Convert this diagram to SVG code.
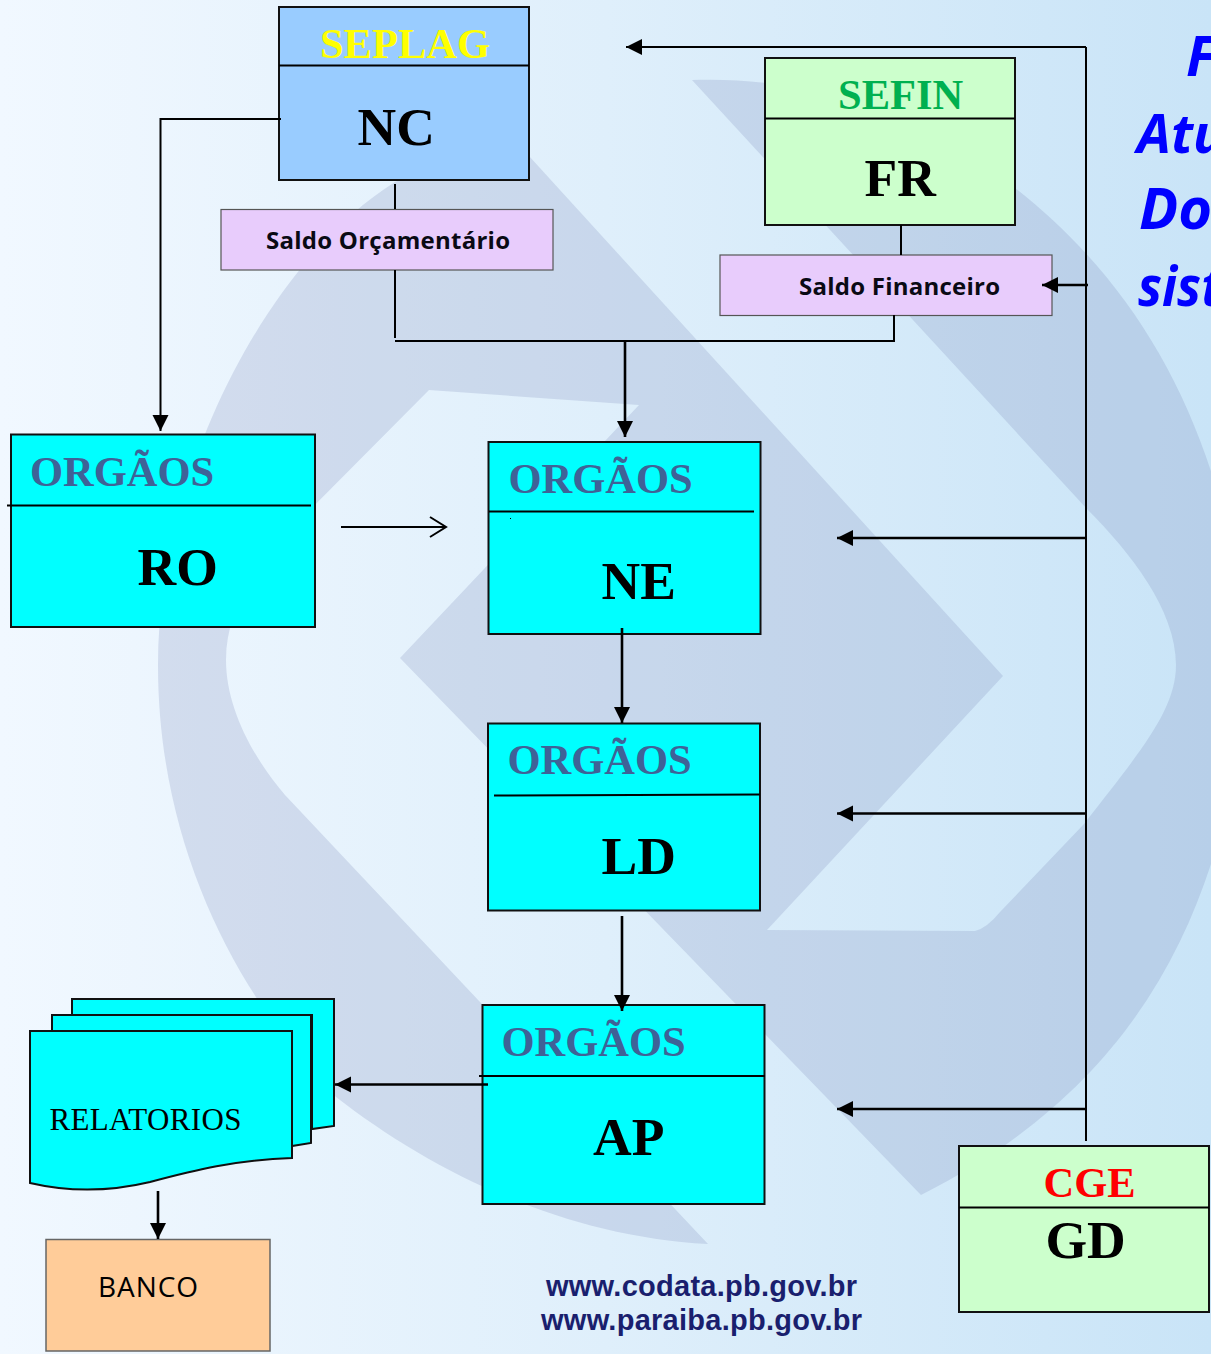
<svg xmlns="http://www.w3.org/2000/svg" width="1211" height="1354" viewBox="0 0 1211 1354">
<style>
.serif{font-family:"Liberation Serif","Times New Roman",serif}
.b{font-weight:700}
.t{font-size:42.500px}
.m{font-size:53.500px;fill:#000}
.org{fill:#3f6297}
.box{stroke:#111;stroke-width:2}
.cy{fill:#00ffff}
.gr{fill:#ccffcc}
.li{fill:none;stroke:#000;stroke-width:2}
.th{fill:none;stroke:#000;stroke-width:2.600}
.sal{fill:#e8ccfc;stroke:#555;stroke-width:1.200}
.saltxt{font-family:"Open Sans","Liberation Sans",sans-serif;font-weight:700;font-size:24px;fill:#0a0a14}
.side{font-family:"Open Sans","Liberation Sans",sans-serif;font-weight:700;font-style:italic;font-size:56px;fill:#0000ff}
.url{font-family:"Liberation Sans",Arial,sans-serif;font-weight:700;font-size:29px;fill:#1a1f6e}
</style>
<defs>
<linearGradient id="bg" x1="0" y1="0" x2="1" y2="0"><stop offset="0" stop-color="#f1f8ff"/><stop offset=".5" stop-color="#dfeffb"/><stop offset="1" stop-color="#c9e4f7"/></linearGradient>
<marker id="arr" markerUnits="userSpaceOnUse" markerWidth="18" markerHeight="18" refX="16" refY="9" orient="auto"><path d="M0 1L16 9L0 17Z" fill="#000"/></marker>
<marker id="open" markerUnits="userSpaceOnUse" markerWidth="20" markerHeight="24" refX="18" refY="12" orient="auto"><path d="M2 2L18 12L2 22" fill="none" stroke="#000" stroke-width="2"/></marker>
</defs>
<rect width="1211" height="1354" fill="url(#bg)"/>
<path d="M529 156L1003 676L767 930L975 931Q987 928 1000 912L1084 824C1140 752 1176 710 1176 665C1176 610 1130 552 1087 509L692 80C830 75 950 130 1015 188C1120 270 1190 380 1225 520V800L1211 864C1170 990 1090 1110 921 1195L400 658L639 405L429 390L290 530C250 570 226 615 226 660C226 710 255 760 285 795L708 1244C560 1236 430 1170 336 1097C240 1000 158 850 158 665C158 470 270 260 395 182C440 160 490 158 529 156Z" fill="#7c8cbc" fill-opacity=".23"/>
<g id="side-text">
<text class="side" x="1186" y="76">F</text>
<text class="side" x="1137" y="153" font-size="54" style="font-size:54px">Atu</text>
<text class="side" x="1139" y="229" style="font-size:58px">Do</text>
<text class="side" x="1138" y="306" textLength="84" lengthAdjust="spacingAndGlyphs">sist</text>
</g>
<g id="urls">
<text class="url" x="546" y="1296" textLength="311">www.codata.pb.gov.br</text>
<text class="url" x="541" y="1330" textLength="321">www.paraiba.pb.gov.br</text>
</g>
<g id="seplag">
<rect class="box" x="279" y="7" width="250" height="173" fill="#99ccff"/>
<path class="li" d="M279 65.500H529"/>
<text class="serif b t" x="320" y="58" fill="#ffff00" textLength="170">SEPLAG</text>
<text class="serif b m" x="357.500" y="145">NC</text>
</g>
<g id="sefin">
<rect class="box gr" x="765" y="58" width="250" height="167"/>
<path class="li" d="M765 118.500H1015"/>
<text class="serif b t" x="838" y="109" fill="#00b050">SEFIN</text>
<text class="serif b m" x="864.500" y="196">FR</text>
</g>
<g id="saldo-orc">
<rect class="sal" x="221" y="209.500" width="332" height="60.500"/>
<text class="saltxt" x="266" y="249" textLength="244">Saldo Orçamentário</text>
</g>
<g id="saldo-fin">
<rect class="sal" x="720" y="255" width="332" height="60.500"/>
<text class="saltxt" x="799" y="295" textLength="201">Saldo Financeiro</text>
</g>
<g id="ro">
<rect class="box cy" x="11" y="434.500" width="304" height="192.500"/>
<path class="li" d="M7 505.500H311"/>
<text class="serif b t org" x="30" y="486">ORGÃOS</text>
<text class="serif b m" x="137.500" y="585">RO</text>
</g>
<g id="ne">
<rect class="box cy" x="488.500" y="442" width="272" height="192"/>
<path class="li" d="M489 511.500H754"/>
<rect x="510" y="518" width="1" height="1" fill="#000"/>
<text class="serif b t org" x="508.500" y="492.500">ORGÃOS</text>
<text class="serif b m" x="601.500" y="599">NE</text>
</g>
<g id="ld">
<rect class="box cy" x="488" y="723.500" width="272" height="187"/>
<path class="li" d="M494 795.500L760 794.500"/>
<text class="serif b t org" x="507.500" y="774">ORGÃOS</text>
<text class="serif b m" x="601.500" y="874">LD</text>
</g>
<g id="ap">
<rect class="box cy" x="482.500" y="1005" width="282" height="199"/>
<path class="li" d="M479 1076H765"/>
<text class="serif b t org" x="501.500" y="1056">ORGÃOS</text>
<text class="serif b m" x="593" y="1155">AP</text>
</g>
<g id="cge">
<rect class="box gr" x="959" y="1146" width="250" height="166"/>
<path class="li" d="M959 1207.500H1209"/>
<text class="serif b t" x="1043.500" y="1197" fill="#ff0000">CGE</text>
<text class="serif b m" x="1045.500" y="1258">GD</text>
</g>
<g id="relatorios">
<path class="box cy" d="M72 999H334V1126L312 1129V1015H72Z"/>
<path class="box cy" d="M52 1015H311V1143L292 1146V1031H52Z"/>
<path class="box cy" d="M30 1031H292V1158C235 1160 195 1170 150 1182C100 1194 60 1190 30 1183Z"/>
<text class="serif" x="49.500" y="1130" font-size="31" fill="#000" textLength="192">RELATORIOS</text>
</g>
<g id="banco">
<rect x="46" y="1239.500" width="224" height="111.500" fill="#ffcc99" stroke="#666" stroke-width="1.500"/>
<text x="98" y="1297" font-family="'Open Sans','Liberation Sans',sans-serif" font-size="28" fill="#000" textLength="100">BANCO</text>
</g>
<g id="connectors">
<path class="li" d="M281 119H160.500V431" marker-end="url(#arr)"/>
<path class="li" d="M395 184V209"/>
<path class="li" d="M395 270V338"/>
<path class="li" d="M395 341H894V315"/>
<path class="th" d="M625 341V437" marker-end="url(#arr)"/>
<path class="li" d="M901 225V255"/>
<path class="li" d="M341 527H446" marker-end="url(#open)"/>
<path class="th" d="M622 628V723" marker-end="url(#arr)"/>
<path class="th" d="M622 916V1011" marker-end="url(#arr)"/>
<path class="th" d="M488 1084.500H335" marker-end="url(#arr)"/>
<path class="th" d="M158 1191V1239" marker-end="url(#arr)"/>
<path class="li" d="M1086 1141V47"/>
<path class="li" d="M1086 47H626" marker-end="url(#arr)"/>
<path class="th" d="M1088 285H1042" marker-end="url(#arr)"/>
<path class="th" d="M1086 538H837" marker-end="url(#arr)"/>
<path class="th" d="M1086 813.500H837" marker-end="url(#arr)"/>
<path class="th" d="M1086 1109H837" marker-end="url(#arr)"/>
</g>
</svg>
